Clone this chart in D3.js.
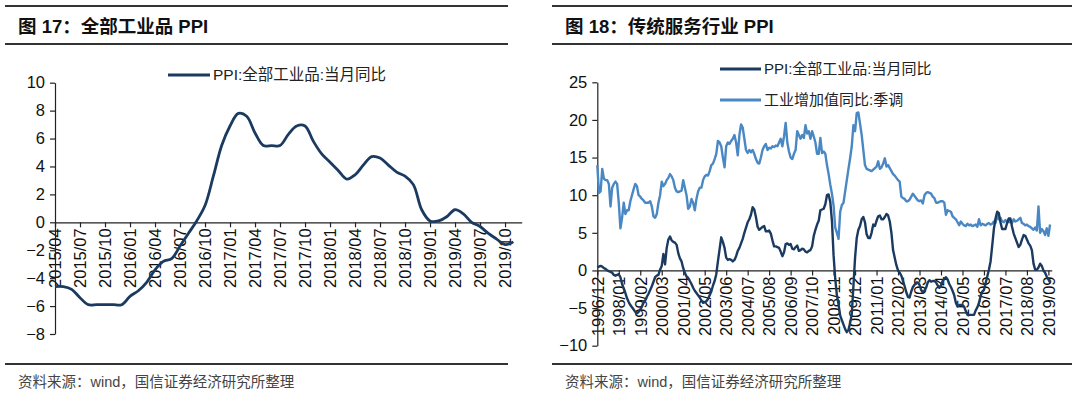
<!doctype html>
<html lang="zh">
<head>
<meta charset="utf-8">
<title>PPI</title>
<style>
  body { margin: 0; background: #fff; }
  svg { display: block; font-family: "Liberation Sans", Arial, sans-serif; }
  .axis path, .axis line { stroke: #222; stroke-width: 1.2px; }
  .axis text { font-size: 16.5px; fill: #111; font-family: "Liberation Sans", Arial, sans-serif; }
  .rule { stroke: #333; stroke-width: 2px; }
  .title { font-size: 18.5px; font-weight: bold; fill: #111; font-family: "Liberation Sans", "Noto Sans CJK SC", sans-serif; }
  .foot { font-size: 14.5px; fill: #444; font-family: "Liberation Sans", "Noto Sans CJK SC", sans-serif; }
  .legend { font-size: 15.5px; fill: #222; font-family: "Liberation Sans", "Noto Sans CJK SC", sans-serif; }
</style>
</head>
<body>
<svg id="chart" width="1080" height="398"></svg>
<script src="https://cdn.jsdelivr.net/npm/d3@7"></script>
<script>
// ---- chart 17: PPI, monthly from 2015/04 ----
var start17 = "2015/04";
var ticks17 = ["2015/04","2015/07","2015/10","2016/01","2016/04","2016/07","2016/10",
               "2017/01","2017/04","2017/07","2017/10","2018/01","2018/04","2018/07",
               "2018/10","2019/01","2019/04","2019/07","2019/10"];
var yTicks17 = [-8, -6, -4, -2, 0, 2, 4, 6, 8, 10];
var ppi17 = [
  -4.6, -4.6, -4.8, -5.4, -5.9, -5.9, -5.9, -5.9, -5.9,              // 2015/04-12
  -5.3, -4.9, -4.3, -3.4, -2.8, -2.6, -1.7, -0.8, 0.1, 1.2, 3.3, 5.5, // 2016
  6.9, 7.8, 7.6, 6.4, 5.5, 5.5, 5.5, 6.3, 6.9, 6.9, 5.8, 4.9,        // 2017
  4.3, 3.7, 3.1, 3.4, 4.1, 4.7, 4.6, 4.1, 3.6, 3.3, 2.7, 0.9,        // 2018
  0.1, 0.1, 0.4, 0.9, 0.6, 0.0, -0.3, -0.8, -1.2, -1.6, -1.4         // 2019/01-11
];

// ---- chart 18: PPI vs industrial value added, monthly from 1996/12 ----
var start18 = "1996/12";
var ticks18 = ["1996/12","1998/01","1999/02","2000/03","2001/04","2002/05","2003/06",
               "2004/07","2005/08","2006/09","2007/10","2008/11","2009/12","2011/01",
               "2012/02","2013/03","2014/04","2015/05","2016/06","2017/07","2018/08","2019/09"];
var yTicks18 = [-10, -5, 0, 5, 10, 15, 20, 25];
var ppi18 = [
  0.4,                                                                   // 1996/12
  0.5, 0.6, 0.5, 0.3, 0.2, 0.0, -0.1, -0.2, -0.3, -0.6, -0.7, -0.6,      // 1997
  -0.5, -0.9, -1.8, -2.4, -3.0, -3.7, -4.2, -4.6, -4.9, -5.2, -5.5, -5.7, // 1998
  -5.5, -5.2, -4.8, -4.3, -4.0, -3.5, -3.1, -2.6, -2.1, -1.5, -0.9, -0.7, // 1999
  -0.6, 0.1, 0.6, 2.2, 0.8, 3.0, 4.1, 4.5, 4.0, 3.8, 3.7, 3.4,          // 2000
  2.3, 1.6, 1.2, 0.3, -0.3, -0.8, -1.0, -1.4, -1.8, -2.3, -2.7, -3.0,   // 2001
  -3.3, -3.6, -4.0, -4.3, -4.2, -4.1, -3.8, -3.3, -2.8, -2.0, -1.4, -0.5, // 2002
  1.2, 2.8, 4.4, 3.8, 3.0, 1.7, 1.4, 1.5, 1.4, 1.2, 1.4, 1.9,           // 2003
  2.6, 3.0, 3.6, 4.2, 5.0, 5.7, 6.4, 6.8, 7.4, 8.4, 8.1, 7.1,           // 2004
  5.8, 5.4, 5.6, 5.8, 5.9, 5.2, 5.2, 5.3, 4.9, 4.0, 3.2, 3.2,           // 2005
  3.1, 3.0, 2.5, 1.9, 2.4, 3.5, 3.6, 3.4, 3.5, 2.9, 2.8, 3.1,           // 2006
  3.3, 2.6, 2.7, 2.9, 2.8, 2.5, 2.4, 2.6, 2.7, 3.2, 4.6, 5.4,           // 2007
  6.1, 6.6, 8.0, 8.1, 8.2, 8.8, 10.0, 10.1, 9.1, 6.6, 2.0, -1.1,        // 2008
  -3.3, -4.5, -6.0, -6.6, -7.2, -7.8, -8.2, -7.9, -7.0, -5.8, -2.1, 1.7, // 2009
  4.3, 5.4, 5.9, 6.8, 7.1, 6.4, 4.8, 4.3, 4.3, 5.0, 6.1, 5.9,           // 2010
  6.6, 7.2, 7.3, 6.8, 6.8, 7.1, 7.5, 7.3, 6.5, 5.0, 2.7, 1.7,           // 2011
  0.7, 0.0, -0.3, -0.7, -1.4, -2.1, -2.9, -3.5, -3.6, -2.8, -2.2, -1.9, // 2012
  -1.6, -1.6, -1.9, -2.6, -2.9, -2.7, -2.3, -1.6, -1.3, -1.5, -1.4, -1.4, // 2013
  -1.6, -2.0, -2.3, -2.0, -1.4, -1.1, -0.9, -1.2, -1.8, -2.2, -2.7, -3.3, // 2014
  -4.3, -4.8, -4.6, -4.6, -4.6, -4.8, -5.4, -5.9, -5.9, -5.9, -5.9, -5.9, // 2015
  -5.3, -4.9, -4.3, -3.4, -2.8, -2.6, -1.7, -0.8, 0.1, 1.2, 3.3, 5.5,   // 2016
  6.9, 7.8, 7.6, 6.4, 5.5, 5.5, 5.5, 6.3, 6.9, 6.9, 5.8, 4.9,           // 2017
  4.3, 3.7, 3.1, 3.4, 4.1, 4.7, 4.6, 4.1, 3.6, 3.3, 2.7, 0.9,           // 2018
  0.1, 0.1, 0.4, 0.9, 0.6, 0.0, -0.3, -0.8, -1.2, -1.6                  // 2019/01-10
];
var iva18 = [
  14.0,                                                                  // 1996/12
  10.3, 10.5, 13.5, 12.2, 12.0, 12.0, 11.5, 8.5, 11.0, 11.5, 11.8, 11.5, // 1997
  9.0, 5.6, 7.0, 9.0, 7.5, 8.0, 8.0, 9.2, 10.0, 10.8, 11.5, 11.2,       // 1998
  10.0, 9.8, 9.5, 9.3, 9.0, 9.0, 9.0, 9.2, 8.5, 7.2, 7.0, 7.5,          // 1999
  9.0, 10.0, 11.8, 11.2, 11.5, 12.0, 12.3, 12.8, 12.5, 12.0, 11.0, 10.5, // 2000
  10.4, 10.5, 10.6, 12.0, 11.0, 10.0, 8.2, 8.5, 9.5, 9.0, 8.0, 9.5,     // 2001
  10.5, 11.0, 11.0, 12.0, 12.5, 12.7, 12.6, 13.2, 14.0, 14.2, 14.8, 15.5, // 2002
  17.2, 17.0, 16.5, 15.0, 13.7, 16.5, 17.0, 16.8, 17.2, 17.5, 18.0, 17.0, // 2003
  15.3, 18.0, 19.4, 19.0, 17.5, 16.0, 15.6, 16.0, 15.7, 16.0, 15.5, 14.8, // 2004
  14.3, 14.2, 15.0, 16.0, 16.5, 16.8, 16.0, 16.3, 16.2, 16.5, 16.4, 16.6, // 2005
  16.5, 17.0, 17.5, 16.5, 17.8, 19.6, 17.0, 15.8, 15.0, 14.8, 15.5, 16.0, // 2006
  18.5, 18.0, 17.5, 18.0, 17.6, 19.3, 18.2, 18.5, 17.5, 18.5, 17.8, 17.0, // 2007
  15.5, 15.5, 17.6, 15.6, 15.8, 15.5, 14.0, 12.8, 11.4, 10.2, 8.6, 5.7,  // 2008
  5.0, 4.2, 7.8, 8.7, 9.0, 10.5, 12.0, 13.5, 14.9, 16.5, 19.3, 18.5,    // 2009
  20.9, 21.0, 19.5, 18.0, 16.0, 14.0, 13.5, 13.4, 13.3, 13.2, 13.4, 13.6, // 2010
  13.8, 14.5, 13.5, 13.7, 14.2, 14.9, 13.8, 14.0, 13.6, 13.2, 12.8, 12.6, // 2011
  12.3, 12.0, 11.8, 9.8, 9.6, 9.5, 9.2, 9.2, 9.4, 9.8, 10.2, 9.9,       // 2012
  9.6, 9.3, 9.2, 9.3, 8.9, 10.0, 10.3, 10.4, 10.3, 10.2, 9.8, 9.6,      // 2013
  9.0, 9.0, 9.1, 9.2, 9.2, 9.0, 7.4, 8.0, 7.9, 7.8, 7.2, 7.0,           // 2014
  6.8, 6.4, 6.0, 6.5, 6.2, 6.0, 5.9, 6.2, 6.0, 6.1, 5.9, 6.0,           // 2015
  6.1, 5.8, 6.8, 6.0, 6.2, 6.1, 6.0, 6.2, 6.3, 6.1, 6.2, 6.5,           // 2016
  6.3, 7.2, 6.8, 7.0, 6.5, 6.4, 6.7, 6.5, 6.4, 6.6, 6.3, 6.8,           // 2017
  6.5, 6.6, 6.8, 7.0, 6.3, 6.2, 6.0, 6.1, 5.9, 5.8, 5.6, 5.4,           // 2018
  5.7, 5.3, 8.5, 5.0, 5.5, 5.2, 4.7, 5.6, 4.6, 6.1                      // 2019/01-10
];

var darkBlue = "#1b3a60",
    lightBlue = "#4a88c4";

var svg = d3.select("#chart");

// month offset of a "yyyy/mm" label from a start label
function monthIndex(label, startLabel) {
  var a = label.split("/"), b = startLabel.split("/");
  return (+a[0] - +b[0]) * 12 + (+a[1] - +b[1]);
}

// frame: rules, title, footer
function frame(x0, x1, title) {
  svg.append("line").attr("class", "rule").attr("x1", x0).attr("x2", x1).attr("y1", 6).attr("y2", 6);
  svg.append("line").attr("class", "rule").attr("x1", x0).attr("x2", x1).attr("y1", 44).attr("y2", 44);
  svg.append("line").attr("class", "rule").attr("x1", x0).attr("x2", x1).attr("y1", 364).attr("y2", 364);
  svg.append("text").attr("class", "title").attr("x", x0 + 13).attr("y", 33).text(title);
  svg.append("text").attr("class", "foot").attr("x", x0 + 13).attr("y", 387)
    .text("资料来源：wind，国信证券经济研究所整理");
}

function drawAxes(g, x, y, ticks, start, yTicks) {
  var xAxis = d3.axisBottom(x)
    .tickValues(ticks.map(function(t) { return monthIndex(t, start); }))
    .tickFormat(function(d, i) { return ticks[i]; })
    .tickSize(5).tickSizeOuter(0);
  var gx = g.append("g").attr("class", "axis")
    .attr("transform", "translate(0," + y(0) + ")")
    .call(xAxis);
  gx.selectAll("text")
    .attr("transform", "rotate(-90)")
    .attr("x", -6).attr("y", 0).attr("dy", "0.35em")
    .style("text-anchor", "end");

  var yAxis = d3.axisLeft(y).tickValues(yTicks).tickSize(5).tickSizeOuter(0).tickPadding(5);
  g.append("g").attr("class", "axis")
    .attr("transform", "translate(" + x.range()[0] + ",0)")
    .call(yAxis);
}

// ---------- chart 17 ----------
frame(5, 508, "图 17：全部工业品 PPI");

var x17 = d3.scaleLinear().domain([0, 56]).range([55, 521.7]);
var y17 = d3.scaleLinear().domain([-8, 10]).range([334, 82.7]);
var g17 = svg.append("g");
drawAxes(g17, x17, y17, ticks17, start17, yTicks17);

g17.append("path")
  .datum(ppi17)
  .attr("fill", "none")
  .attr("stroke", darkBlue)
  .attr("stroke-width", 2.8)
  .attr("stroke-linejoin", "round")
  .attr("d", d3.line()
    .x(function(d, i) { return x17(i); })
    .y(function(d) { return y17(d); })
    .curve(d3.curveCatmullRom.alpha(0.5)));

var leg17 = svg.append("g").attr("transform", "translate(168,75)");
leg17.append("line").attr("x1", 0).attr("x2", 42).attr("stroke", darkBlue).attr("stroke-width", 3);
leg17.append("text").attr("class", "legend").attr("x", 45).attr("dy", "0.35em").text("PPI:全部工业品:当月同比");

// ---------- chart 18 ----------
frame(552, 1072, "图 18：传统服务行业 PPI");

var x18 = d3.scaleLinear().domain([0, 275]).range([597.3, 1051.7]);
var y18 = d3.scaleLinear().domain([-10, 25]).range([345.7, 82.3]);
var g18 = svg.append("g");
drawAxes(g18, x18, y18, ticks18, start18, yTicks18);

var line18 = d3.line()
  .x(function(d, i) { return x18(i); })
  .y(function(d) { return y18(d); });

g18.append("path").datum(iva18)
  .attr("fill", "none").attr("stroke", lightBlue).attr("stroke-width", 2.4)
  .attr("stroke-linejoin", "round").attr("d", line18);
g18.append("path").datum(ppi18)
  .attr("fill", "none").attr("stroke", darkBlue).attr("stroke-width", 2.4)
  .attr("stroke-linejoin", "round").attr("d", line18);

var legend18 = [
  { name: "PPI:全部工业品:当月同比", color: darkBlue, y: 69 },
  { name: "工业增加值同比:季调", color: lightBlue, y: 100 }
];
var leg18 = svg.selectAll(".leg18").data(legend18).enter().append("g")
  .attr("transform", function(d) { return "translate(720," + d.y + ")"; });
leg18.append("line").attr("x1", 0).attr("x2", 41)
  .attr("stroke", function(d) { return d.color; }).attr("stroke-width", 3);
leg18.append("text").attr("class", "legend").attr("x", 44).attr("dy", "0.35em")
  .style("font-size", "15px")
  .text(function(d) { return d.name; });
</script>
</body>
</html>
